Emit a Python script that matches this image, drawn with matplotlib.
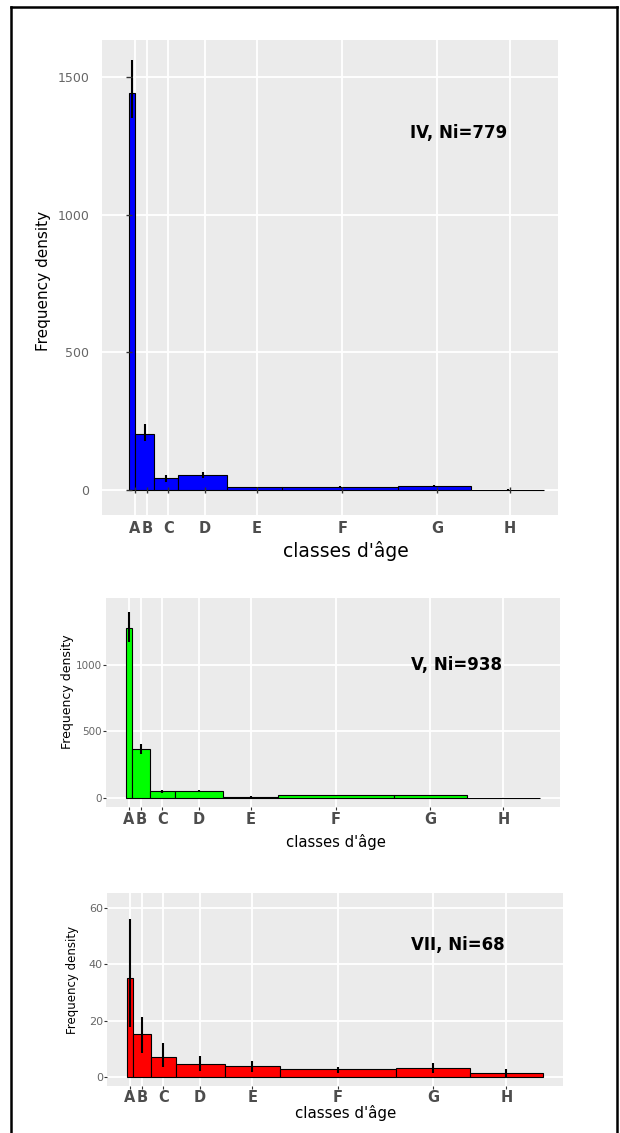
import matplotlib as mp
import matplotlib.pyplot as pyplot
import numpy as np
from matplotlib.lines import Line2D

mp.rcParams['font.family'] = ['DejaVu Sans']

# age class breaks (class widths give the bar widths) and their names
breaks = [0, 1, 4, 8, 16, 25, 44, 56, 68]
classes = ["A", "B", "C", "D", "E", "F", "G", "H"]

# frequency densities and their intervals
dens_iv = [1444, 204, 42, 55, 9, 12, 15, 1]
low_iv = [1351, 178, 30, 45, 6, 10, 12, 0]
high_iv = [1562, 239, 54, 64, 12, 14, 18, 2]

dens_v = [1277, 369, 52, 52, 12, 22, 24, 2]
low_v = [1172, 332, 40, 44, 9, 18, 20, 0]
high_v = [1397, 406, 64, 60, 15, 26, 28, 4]

dens_vii = [35.1, 15.1, 7.1, 4.5, 3.9, 2.6, 3.2, 1.2]
low_vii = [17.8, 8.3, 3.3, 2.1, 1.8, 1.4, 1.4, 0.0]
high_vii = [56.0, 21.4, 12.1, 7.5, 5.7, 3.3, 4.8, 2.6]

yticks_iv = [0, 500, 1000, 1500]
yticks_v = [0, 500, 1000]
yticks_vii = [0, 20, 40, 60]

W, H = 620, 1133
fig = pyplot.figure(figsize=(W / 100, H / 100), dpi=100)


def px_box(left, top, right, bottom):
	return [left / W, 1 - bottom / H, (right - left) / W, (bottom - top) / H]


def panel(box, dens, low, high, color, yticks, xlim, ylim, title, title_pos,
	  ylab_pos, xlab_pos, sizes, tick_shift=0.0, origin_ticks=False):
	ax = fig.add_axes(box)
	ax.set_facecolor('#ebebeb')
	for s in ax.spines.values():
		s.set_visible(False)
	b = np.array(breaks, dtype=float)
	widths = np.diff(b)
	mids = b[:-1] + widths / 2
	ax.bar(b[:-1], dens, width=widths, align='edge', color=color,
		edgecolor='black', linewidth=0.8, zorder=2)
	ax.vlines(mids, low, high, color='black', linewidth=1.5, zorder=4)
	ax.set_xticks(mids + tick_shift)
	ax.set_xticklabels(classes, fontweight='bold', color='#4d4d4d',
		fontsize=sizes[1])
	ax.set_yticks(yticks)
	ax.set_yticklabels([str(t) for t in yticks], color='#666666',
		fontsize=sizes[0])
	ax.grid(True, color='white', linewidth=1.3)
	ax.set_axisbelow(True)
	ax.set_xlim(*xlim)
	ax.set_ylim(*ylim)
	if origin_ticks:
		# this panel has its tick marks drawn at the data origin
		ax.tick_params(axis='y', length=0, pad=sizes[4])
		ax.tick_params(axis='x', length=0, pad=sizes[5])
		ax.plot(np.zeros(len(yticks)), yticks, linestyle='none', marker='_',
			markersize=4, color='#333333', zorder=5)
		ax.plot(mids + tick_shift, np.zeros(len(mids)), linestyle='none',
			marker='|', markersize=4, color='#333333', zorder=5)
	else:
		ax.tick_params(axis='both', length=2.2, color='#333333')
		ax.tick_params(axis='y', pad=sizes[4])
		ax.tick_params(axis='x', pad=sizes[5])
	ax.text(title_pos[0], title_pos[1], title, transform=ax.transAxes,
		ha='center', va='center', fontweight='bold', fontsize=12)
	ax.text(ylab_pos[0], ylab_pos[1], "Frequency density",
		transform=ax.transAxes, rotation=90, ha='center', va='center',
		fontsize=sizes[2])
	ax.text(xlab_pos[0], xlab_pos[1], "classes d'âge", transform=ax.transAxes,
		ha='center', va='center', fontsize=sizes[3])
	return ax


# sizes: ytick, xtick, ylabel, xlabel, ytick pad, xtick pad
panel(px_box(102.3, 40, 558, 515), dens_iv, low_iv, high_iv, '#0000ff',
	yticks_iv, (-4.42, 70.24), (-91, 1636), "IV, Ni=779", (0.783, 0.804),
	(-0.130, 0.493), (0.535, -0.076), (9, 10.5, 11, 13.5, 9.5, 4.0),
	tick_shift=0.4, origin_ticks=True)

panel(px_box(105.7, 598.3, 560, 806.7), dens_v, low_v, high_v, '#00ff00',
	yticks_v, (-3.33, 71.3), (-63, 1497), "V, Ni=938", (0.773, 0.68),
	(-0.083, 0.55), (0.507, -0.169), (7.5, 10.5, 9, 10.7, 0.5, 1.8))

panel(px_box(106.7, 892.7, 562.7, 1085.7), dens_vii, low_vii, high_vii,
	'#ff0000', yticks_vii, (-3.26, 71.2), (-3.2, 65.5), "VII, Ni=68",
	(0.770, 0.729), (-0.076, 0.548), (0.525, -0.142),
	(8, 10.5, 8.5, 10.8, 0.5, 1.0))

# frame around the figure
for xs, ys in [([11 / W, 11 / W], [0, 1 - 6.5 / H]),
		([11 / W, 617 / W], [1 - 6.5 / H, 1 - 6.5 / H]),
		([617 / W, 617 / W], [0, 1 - 6.5 / H])]:
	fig.add_artist(Line2D(xs, ys, color='black', linewidth=1.8))

fig.savefig("out.png", dpi=100)
